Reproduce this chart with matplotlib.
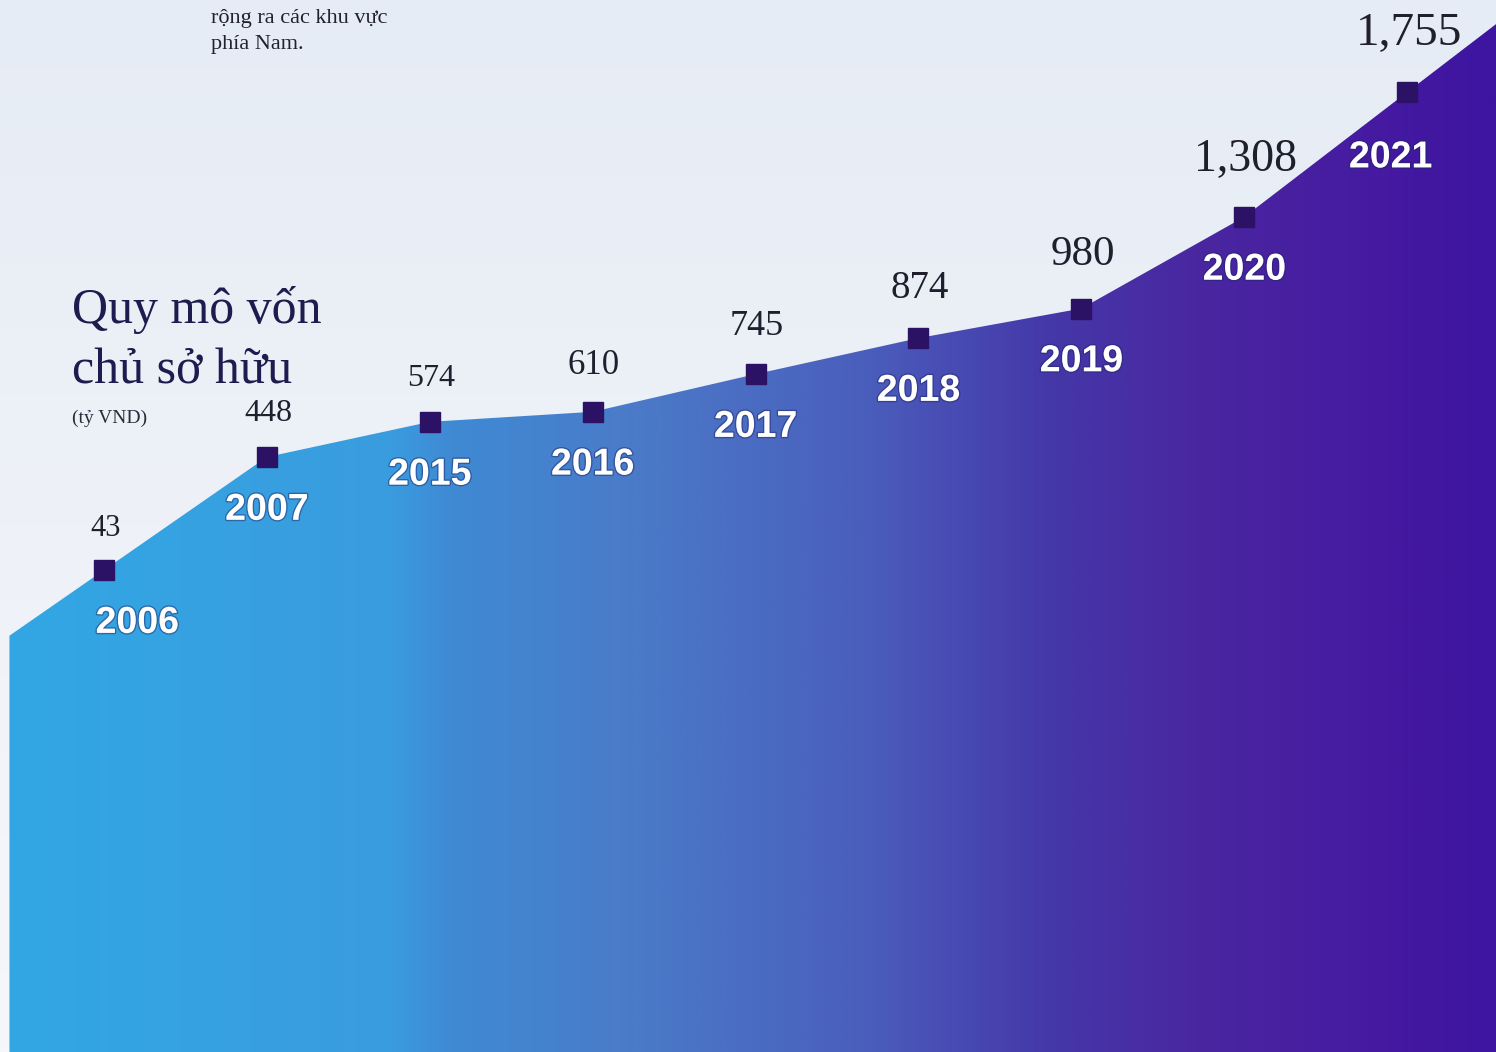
import numpy as np
import matplotlib.pyplot as plt
import matplotlib.patheffects as pe
from matplotlib.colors import LinearSegmentedColormap
from matplotlib.patches import Polygon

# Equity by year (billion VND)
years = ["2006", "2007", "2015", "2016", "2017", "2018", "2019", "2020", "2021"]
equity = [43, 448, 574, 610, 745, 874, 980, 1308, 1755]
value_labels = ["43", "448", "574", "610", "745", "874", "980", "1,308", "1,755"]

title_lines = ["Quy mô vốn", "chủ sở hữu"]
unit_label = "(tỷ VND)"
note_lines = ["rộng ra các khu vực", "phía Nam."]

# label styling: value font grows with the series, end year labels nudged inwards
label_sizes = [22, 23, 23, 25, 26, 28, 31, 33, 34]
year_dx = [24, 0, 0, 0, 0, 0, 0, 0, -12]
year_dy = [-38, -38, -38, -38, -38, -38, -38, -38, -47]

X_LIM = (-0.638, 8.545)
Y_LIM = (-1683, 2085)

fig = plt.figure(figsize=(14.96, 10.52), dpi=100)
ax = fig.add_axes([0, 0, 1, 1])
ax.set_xlim(*X_LIM)
ax.set_ylim(*Y_LIM)
ax.axis("off")

# pale page background, a touch bluer towards the top
bg_cmap = LinearSegmentedColormap.from_list("bg", ["#f5f7fa", "#eef2f8", "#e6ecf5"])
ax.imshow(np.linspace(0, 1, 256).reshape(-1, 1), cmap=bg_cmap, origin="lower",
          extent=(*X_LIM, *Y_LIM), aspect="auto", zorder=0)

# area outline: data points plus the end segments carried to the frame
x = np.arange(len(equity))
x_left, x_right = -0.58, X_LIM[1]
y_left = equity[0] + (x_left - x[0]) * (equity[1] - equity[0])
y_right = equity[-1] + (x_right - x[-1]) * (equity[-1] - equity[-2])
xs = [x_left] + list(x) + [x_right]
ys = [y_left] + equity + [y_right]
verts = list(zip(xs, ys)) + [(x_right, Y_LIM[0]), (x_left, Y_LIM[0])]
area = Polygon(verts, closed=True, facecolor="none", edgecolor="none")
ax.add_patch(area)

area_cmap = LinearSegmentedColormap.from_list("area", [
    (0.00, "#32a7e4"), (0.26, "#3a9cde"), (0.30, "#3f8ad4"), (0.42, "#4a7bc9"),
    (0.58, "#4a5ebc"), (0.70, "#4538a9"), (0.80, "#4a27a1"), (0.93, "#4519a0"),
    (1.00, "#3d15a0")])
grad = ax.imshow(np.linspace(0, 1, 512).reshape(1, -1), cmap=area_cmap,
                 extent=(*X_LIM, *Y_LIM), aspect="auto", zorder=1)
grad.set_clip_path(area)

# markers
ax.plot(x, equity, ls="none", marker="s", markersize=14.5,
        color="#2c1264", zorder=3)

shadow = [pe.withStroke(linewidth=2, foreground="#1c2466", alpha=0.45)]
for i, (xi, v) in enumerate(zip(x, equity)):
    fs = label_sizes[i]
    ax.annotate(value_labels[i], (xi, v), xytext=(1, 8 + fs),
                textcoords="offset points", ha="center", va="center",
                fontsize=fs, family="Liberation Serif", color="#1f1f2e", zorder=4)
    ax.annotate(years[i], (xi, v), xytext=(year_dx[i], year_dy[i]),
                textcoords="offset points", ha="center", va="center",
                fontsize=27, fontweight="bold", family="Liberation Sans",
                color="white", path_effects=shadow, zorder=4)

# heading
fig.text(72 / 1496, 1 - 323 / 1052, title_lines[0], ha="left", va="baseline",
         fontsize=36, family="Liberation Serif", color="#1c1c4e")
fig.text(72 / 1496, 1 - 384 / 1052, title_lines[1], ha="left", va="baseline",
         fontsize=36, family="Liberation Serif", color="#1c1c4e")
fig.text(72 / 1496, 1 - 418 / 1052, unit_label, ha="left", va="center",
         fontsize=14, family="Liberation Serif", color="#2a2a3a")

for i, line in enumerate(note_lines):
    fig.text(211 / 1496, 1 - (18 + 26 * i) / 1052, line, ha="left", va="center",
             fontsize=16, family="Liberation Serif", color="#22222e")

fig.savefig("out.png", dpi=100)
